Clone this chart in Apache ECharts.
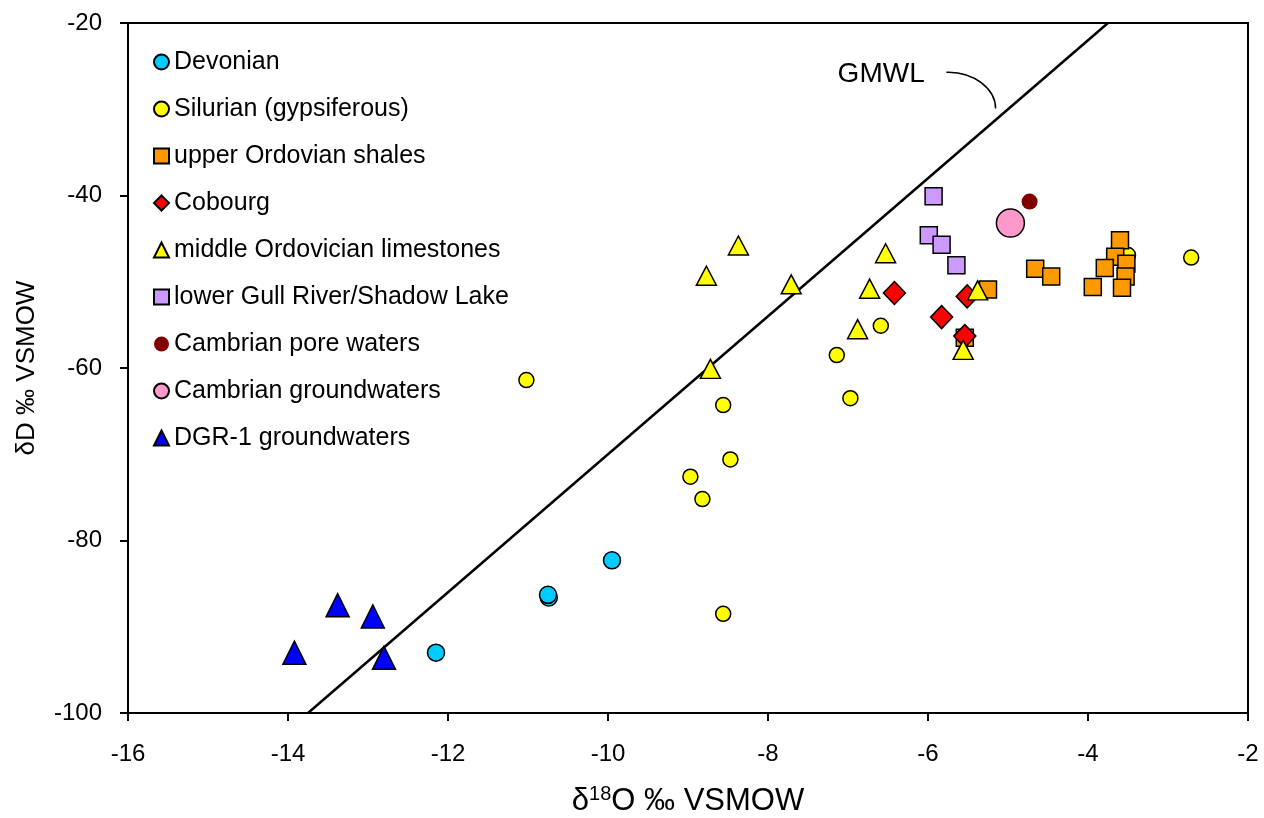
<!DOCTYPE html>
<html>
<head>
<meta charset="utf-8">
<script src="https://cdn.jsdelivr.net/npm/echarts@6/dist/echarts.min.js"></script>
<style>
  html, body { margin: 0; padding: 0; background: #fff; }
  #chart { width: 1264px; height: 818px; }
</style>
</head>
<body>
<div id="chart"></div>
<script>
// data: [d18O, dD]
var devonian = [[-12.15, -93.0], [-10.74, -86.6], [-10.75, -86.3], [-9.95, -82.3]];
var silurian = [[-11.02, -61.4], [-8.56, -64.3], [-8.47, -70.6], [-8.97, -72.6], [-8.82, -75.2],
    [-8.56, -88.5], [-7.14, -58.5], [-6.97, -63.5], [-6.59, -55.1], [-2.71, -47.2], [-3.50, -46.9]];
var upperOrd = [[-3.60, -45.2], [-3.66, -47.1], [-3.52, -47.9], [-3.79, -48.4], [-3.53, -49.4],
    [-3.575, -50.7], [-3.94, -50.6], [-4.66, -48.5], [-4.46, -49.4], [-5.25, -50.9], [-5.54, -56.5]];
var cobourg = [[-6.42, -51.3], [-5.51, -51.7], [-5.83, -54.1], [-5.54, -56.3]];
var middleOrd = [[-8.37, -45.8], [-8.77, -49.3], [-7.71, -50.3], [-8.72, -60.1], [-6.53, -46.7],
    [-6.73, -50.8], [-6.88, -55.5], [-5.38, -51.0], [-5.56, -57.9]];
var gullRiver = [[-5.93, -40.1], [-5.99, -44.6], [-5.83, -45.7], [-5.645, -48.1]];
var cambrianPore = [[-4.73, -40.7]];
var cambrianGw = [[-4.97, -43.2]];
var dgr1 = [[-13.92, -93.0], [-13.38, -87.5], [-12.94, -88.8], [-12.80, -93.6]];

// global meteoric water line, end points on the frame
var gmwl = [[-13.75, -100], [-3.75, -20]];
// label and leader curve (start, control 1, control 2, end)
var gmwlLabelAt = [-7.13, -26.0];
var gmwlCurve = [[-5.77, -25.7], [-5.42, -25.6], [-5.155, -27.7], [-5.155, -29.9]];

var xTicks = [-16, -2, 2];
var yTicks = [-100, -20, 20];

var FONT = '"Liberation Sans", Arial, sans-serif';
var chart = echarts.init(document.getElementById('chart'));

function pts(name, data, symbol, size, color, border) {
    return {
        name: name,
        type: 'scatter',
        data: data,
        symbol: symbol,
        symbolSize: size,
        itemStyle: {
            color: color,
            borderColor: border ? '#000' : color,
            borderWidth: border ? 1.5 : 0,
            opacity: 1
        },
        emphasis: { disabled: true }
    };
}

var option = {
    animation: false,
    backgroundColor: '#fff',
    textStyle: { fontFamily: FONT },
    grid: {
        left: 128, right: 16, top: 23, bottom: 105,
        outerBoundsMode: 'none',
        containLabel: false,
        show: true, borderColor: '#000', borderWidth: 2
    },
    legend: {
        orient: 'vertical',
        left: 148,
        top: 44,
        itemWidth: 15,
        itemHeight: 15,
        itemGap: 21,
        textStyle: { fontFamily: FONT, fontSize: 25, color: '#000', lineHeight: 26 },
        data: ['Devonian', 'Silurian (gypsiferous)', 'upper Ordovian shales', 'Cobourg',
            'middle Ordovician limestones', 'lower Gull River/Shadow Lake',
            'Cambrian pore waters', 'Cambrian groundwaters', 'DGR-1 groundwaters']
    },
    xAxis: {
        type: 'value',
        min: xTicks[0], max: xTicks[1], interval: xTicks[2],
        name: '{a|δ}{s|18}{a|O ‰ VSMOW}',
        nameLocation: 'middle',
        nameGap: 71,
        nameTextStyle: {
            rich: {
                a: { fontFamily: FONT, fontSize: 31, color: '#000' },
                s: { fontFamily: FONT, fontSize: 20, color: '#000', padding: [0, 0, 14, 0] }
            }
        },
        axisLine: { lineStyle: { color: '#000', width: 2 } },
        axisTick: { inside: false, length: 8, lineStyle: { color: '#000', width: 2 } },
        axisLabel: { fontFamily: FONT, fontSize: 24, color: '#000', margin: 29 },
        splitLine: { show: false }
    },
    yAxis: {
        type: 'value',
        min: yTicks[0], max: yTicks[1], interval: yTicks[2],
        name: 'δD ‰ VSMOW',
        nameLocation: 'middle',
        nameGap: 88,
        nameTextStyle: { fontFamily: FONT, fontSize: 26, color: '#000' },
        axisLine: { lineStyle: { color: '#000', width: 2 } },
        axisTick: { inside: false, length: 8, lineStyle: { color: '#000', width: 2 } },
        axisLabel: { fontFamily: FONT, fontSize: 24, color: '#000', margin: 26 },
        splitLine: { show: false }
    },
    series: [
        {
            name: 'GMWL',
            type: 'line',
            data: gmwl,
            symbol: 'none',
            lineStyle: { color: '#000', width: 2.5 },
            silent: true,
            z: 1
        },
        pts('Devonian', devonian, 'circle', 17, '#00ccff', true),
        pts('Silurian (gypsiferous)', silurian, 'circle', 15, '#ffff00', true),
        pts('upper Ordovian shales', upperOrd, 'rect', 17, '#ff9900', true),
        pts('Cobourg', cobourg, 'diamond', [22, 23], '#ff0000', true),
        pts('middle Ordovician limestones', middleOrd, 'triangle', [20, 19], '#ffff00', true),
        pts('lower Gull River/Shadow Lake', gullRiver, 'rect', 17, '#cc99ff', true),
        pts('Cambrian pore waters', cambrianPore, 'circle', 16, '#800000', false),
        pts('Cambrian groundwaters', cambrianGw, 'circle', 28, '#ff99cc', true),
        pts('DGR-1 groundwaters', dgr1, 'triangle', [23, 23], '#0000ff', true)
    ]
};
chart.setOption(option);

// GMWL annotation placed in data coordinates
var lp = chart.convertToPixel({ gridIndex: 0 }, gmwlLabelAt);
var cp = gmwlCurve.map(function (p) { return chart.convertToPixel({ gridIndex: 0 }, p); });
chart.setOption({
    graphic: [
        {
            type: 'text',
            x: lp[0], y: lp[1],
            style: { text: 'GMWL', fontFamily: FONT, fontSize: 28, fill: '#000', verticalAlign: 'middle' }
        },
        {
            type: 'bezierCurve',
            shape: {
                x1: cp[0][0], y1: cp[0][1],
                cpx1: cp[1][0], cpy1: cp[1][1],
                cpx2: cp[2][0], cpy2: cp[2][1],
                x2: cp[3][0], y2: cp[3][1]
            },
            style: { stroke: '#000', lineWidth: 1.5, fill: null }
        }
    ]
});
</script>
</body>
</html>
